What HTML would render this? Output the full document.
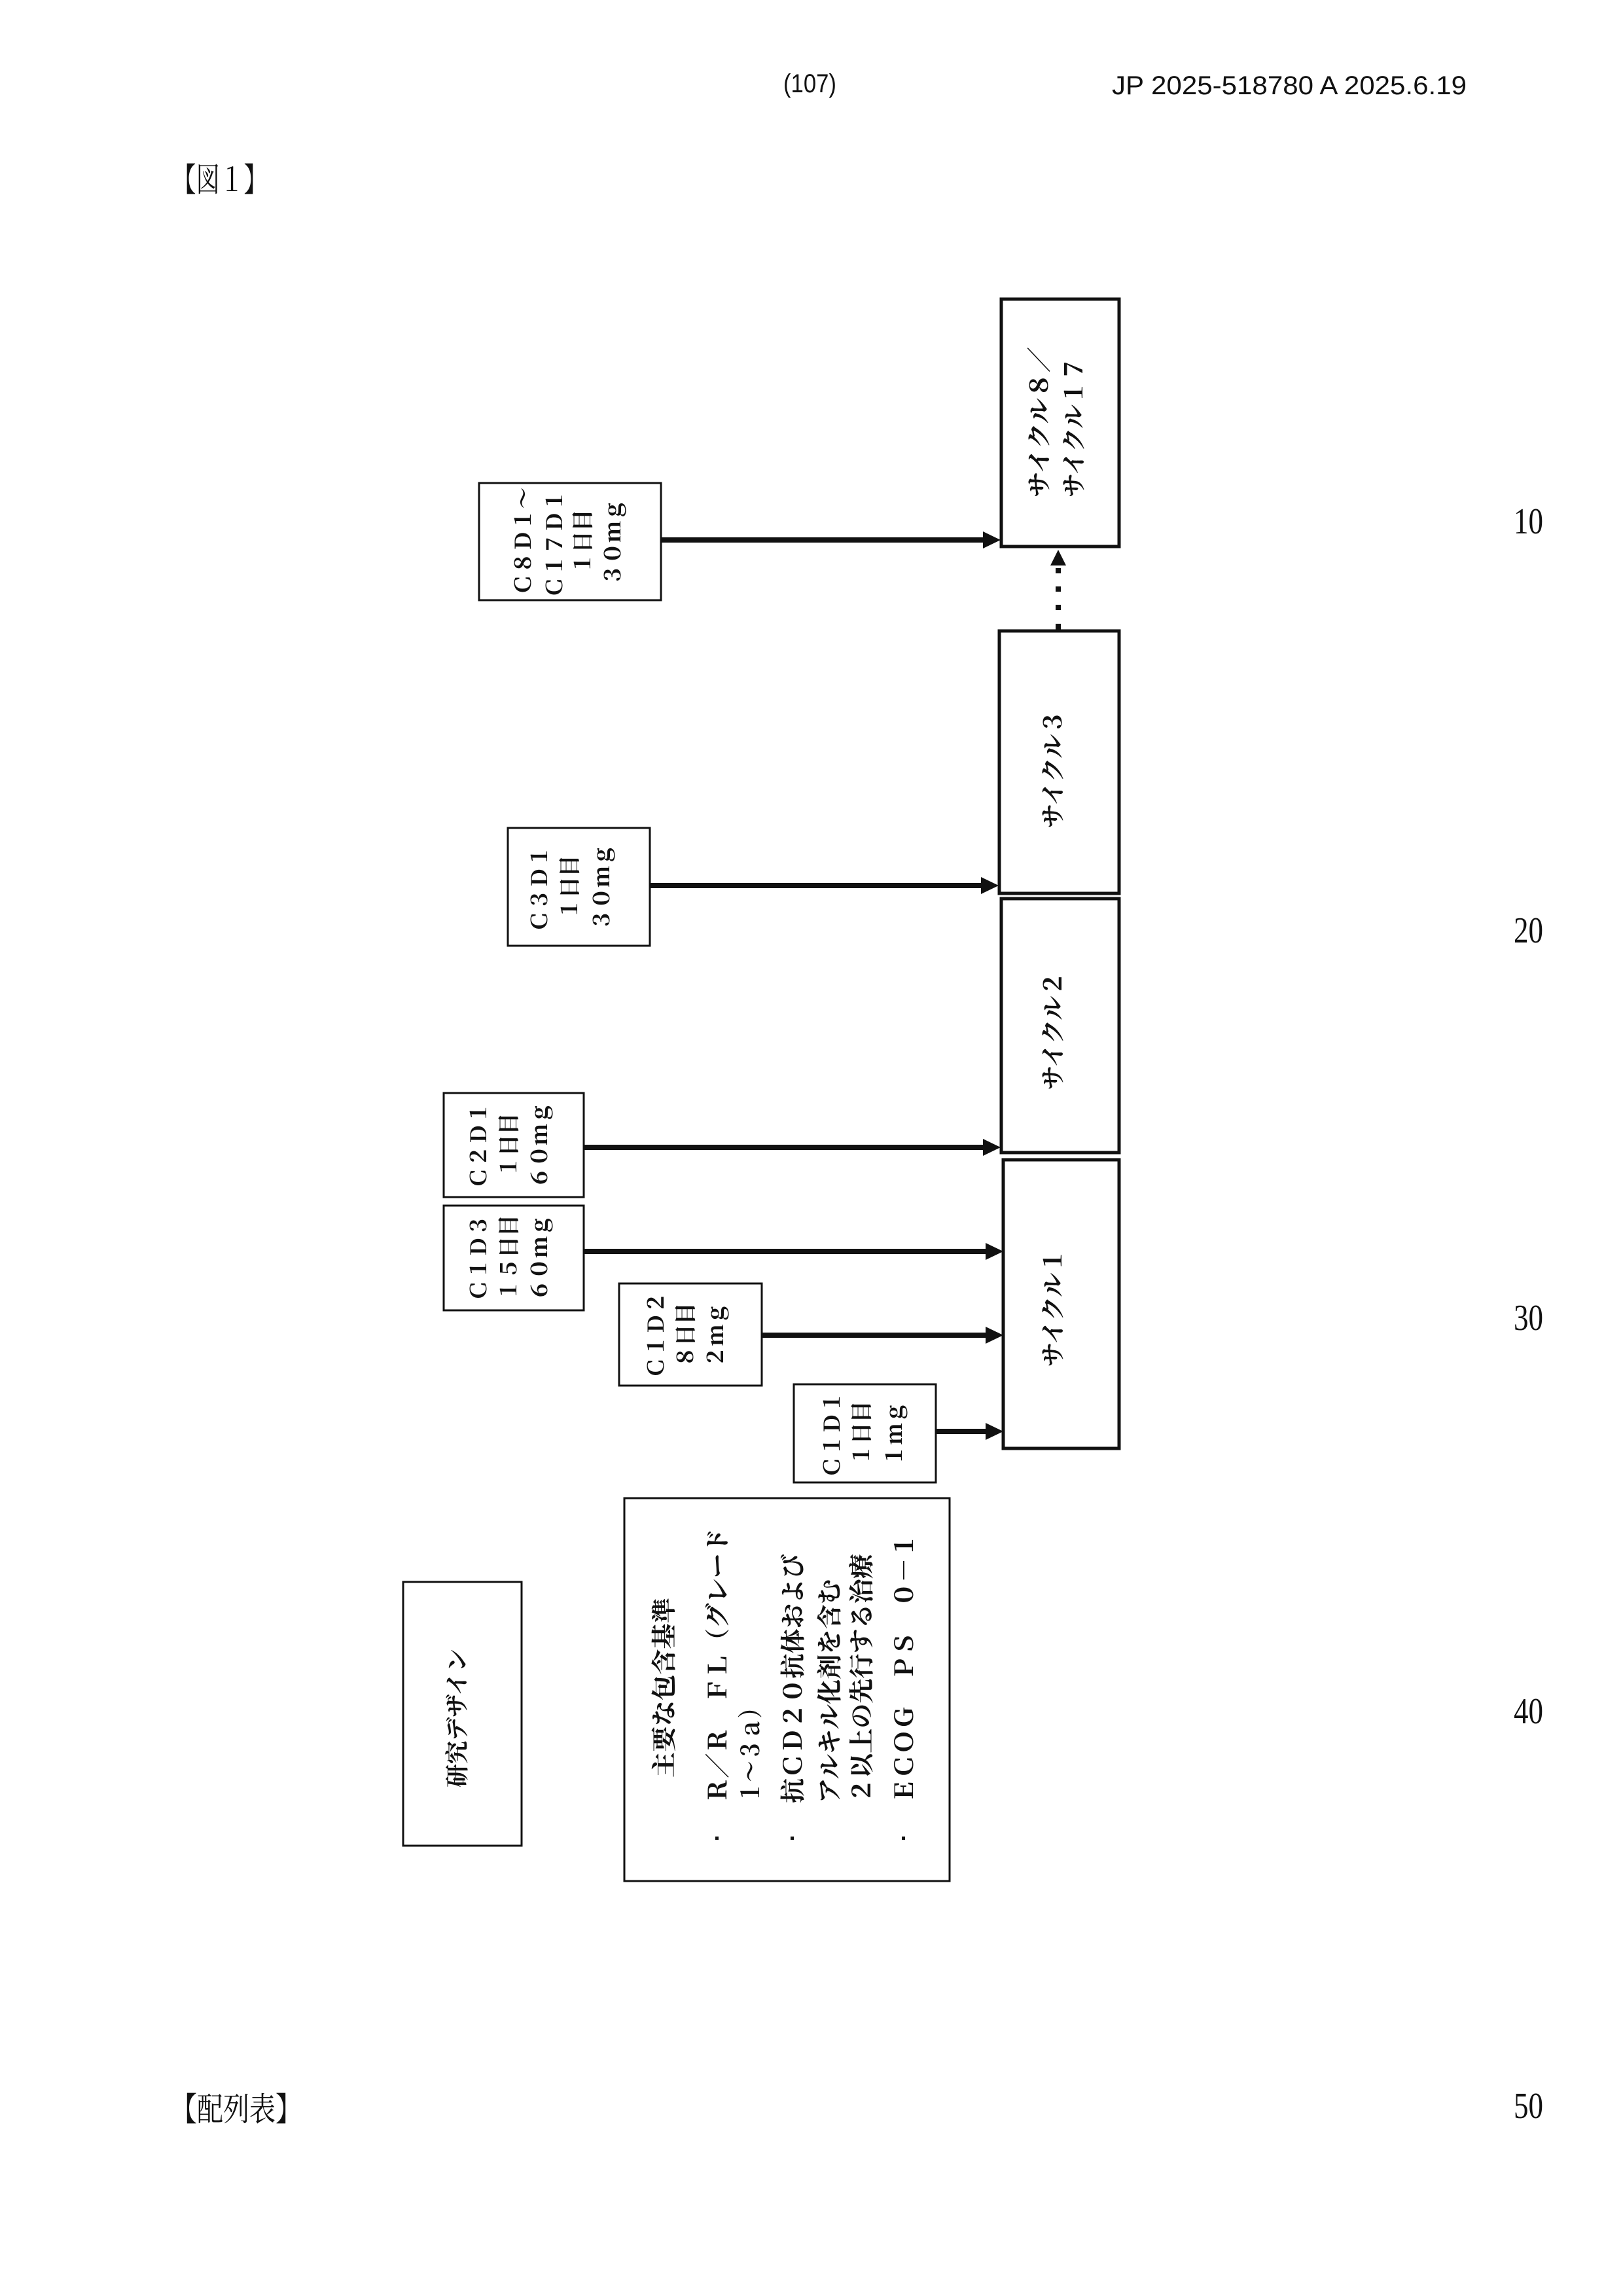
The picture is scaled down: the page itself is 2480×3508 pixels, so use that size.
<!DOCTYPE html>
<html>
<head>
<meta charset="utf-8">
<style>
  html, body { margin: 0; padding: 0; background: #ffffff; }
  svg { display: block; }
  .hdr { font-family: "Liberation Sans", "Noto Sans CJK JP", sans-serif; fill: #111; }
  .ser { font-family: "Liberation Serif", "Noto Serif CJK SC", serif; fill: #111; }
  .jp  { font-family: "Liberation Serif", "Noto Serif CJK SC", serif; font-weight: 700; fill: #111; }
  .box { fill: none; stroke: #111; }
</style>
</head>
<body>
<svg width="2480" height="3508" viewBox="0 0 2480 3508" xmlns="http://www.w3.org/2000/svg">
  <rect x="0" y="0" width="2480" height="3508" fill="#ffffff"/>

  <!-- Header -->
  <text class="hdr" x="1197" y="141" font-size="40" textLength="81" lengthAdjust="spacingAndGlyphs">(107)</text>
  <text class="hdr" x="1699" y="144" font-size="40" textLength="542" lengthAdjust="spacingAndGlyphs">JP  2025-518780  A  2025.6.19</text>

  <text class="ser" x="263" y="292" font-size="50" textLength="146" lengthAdjust="spacingAndGlyphs">【図１】</text>
  <text class="ser" x="261" y="3240" font-size="50" textLength="200" lengthAdjust="spacingAndGlyphs">【配列表】</text>

  <!-- Line numbers -->
  <text class="ser" x="2313" y="815" font-size="56" textLength="45" lengthAdjust="spacingAndGlyphs">10</text>
  <text class="ser" x="2313" y="1440" font-size="56" textLength="45" lengthAdjust="spacingAndGlyphs">20</text>
  <text class="ser" x="2313" y="2032" font-size="56" textLength="45" lengthAdjust="spacingAndGlyphs">30</text>
  <text class="ser" x="2313" y="2633" font-size="56" textLength="45" lengthAdjust="spacingAndGlyphs">40</text>
  <text class="ser" x="2313" y="3236" font-size="56" textLength="45" lengthAdjust="spacingAndGlyphs">50</text>

  <!-- Cycle boxes -->
  <rect class="box" x="1530" y="457" width="180" height="378" stroke-width="5"/>
  <rect class="box" x="1527" y="964" width="183" height="401" stroke-width="5"/>
  <rect class="box" x="1530" y="1373" width="180" height="388" stroke-width="5"/>
  <rect class="box" x="1533" y="1772" width="177" height="441" stroke-width="5"/>

  <!-- Cycle labels (rotated) -->
  <g class="jp" font-size="37">
    <text transform="translate(1601,760) rotate(-90)" textLength="230" lengthAdjust="spacingAndGlyphs">サイクル８／</text>
    <text transform="translate(1654,760) rotate(-90)" textLength="215" lengthAdjust="spacingAndGlyphs">サイクル１７</text>
    <text transform="translate(1622,1175) rotate(-90)" text-anchor="middle">サイクル３</text>
    <text transform="translate(1622,1575) rotate(-90)" text-anchor="middle">サイクル２</text>
    <text transform="translate(1622,1998) rotate(-90)" text-anchor="middle">サイクル１</text>
  </g>

  <!-- Dotted arrow between cycle 3 and cycle 8/17 -->
  <g fill="#111">
    <rect x="1613" y="953" width="8" height="9"/>
    <rect x="1613" y="924" width="8" height="8"/>
    <rect x="1613" y="896" width="8" height="8"/>
    <rect x="1613" y="868" width="8" height="8"/>
    <path d="M1605,864 L1629,864 L1617,840 Z"/>
  </g>

  <!-- Dose boxes -->
  <rect class="box" x="732" y="738" width="278" height="179" stroke-width="3"/>
  <rect class="box" x="776" y="1265" width="217" height="180" stroke-width="3"/>
  <rect class="box" x="678" y="1670" width="214" height="159" stroke-width="3"/>
  <rect class="box" x="678" y="1842" width="214" height="160" stroke-width="3"/>
  <rect class="box" x="946" y="1961" width="218" height="156" stroke-width="3"/>
  <rect class="box" x="1213" y="2115" width="217" height="150" stroke-width="3"/>

  <!-- Dose labels (rotated, centered) -->
  <g class="jp" font-size="33" text-anchor="middle">
    <!-- C8D1 -->
    <text transform="translate(811,827) rotate(-90)">Ｃ８Ｄ１～</text>
    <text transform="translate(859,831) rotate(-90)">Ｃ１７Ｄ１</text>
    <text transform="translate(902,828) rotate(-90)">１日目</text>
    <text transform="translate(948,829) rotate(-90)">３０ｍｇ</text>
    <!-- C3D1 -->
    <text transform="translate(836,1358) rotate(-90)">Ｃ３Ｄ１</text>
    <text transform="translate(882,1356) rotate(-90)">１日目</text>
    <text transform="translate(931,1356) rotate(-90)">３０ｍｇ</text>
    <!-- C2D1 -->
    <text transform="translate(743,1750) rotate(-90)">Ｃ２Ｄ１</text>
    <text transform="translate(789,1750) rotate(-90)">１日目</text>
    <text transform="translate(836,1750) rotate(-90)">６０ｍｇ</text>
    <!-- C1D3 -->
    <text transform="translate(743,1922) rotate(-90)">Ｃ１Ｄ３</text>
    <text transform="translate(789,1922) rotate(-90)">１５日目</text>
    <text transform="translate(836,1922) rotate(-90)">６０ｍｇ</text>
    <!-- C1D2 -->
    <text transform="translate(1014,2040) rotate(-90)">Ｃ１Ｄ２</text>
    <text transform="translate(1059,2040) rotate(-90)">８日目</text>
    <text transform="translate(1105,2040) rotate(-90)">２ｍｇ</text>
    <!-- C1D1 -->
    <text transform="translate(1283,2192) rotate(-90)">Ｃ１Ｄ１</text>
    <text transform="translate(1328,2190) rotate(-90)">１日目</text>
    <text transform="translate(1378,2191) rotate(-90)">１ｍｇ</text>
  </g>

  <!-- Solid arrows -->
  <g stroke="#111" stroke-width="8" fill="none">
    <line x1="1010" y1="825" x2="1506" y2="825"/>
    <line x1="993" y1="1353" x2="1503" y2="1353"/>
    <line x1="892" y1="1753" x2="1506" y2="1753"/>
    <line x1="892" y1="1912" x2="1510" y2="1912"/>
    <line x1="1164" y1="2040" x2="1510" y2="2040"/>
    <line x1="1430" y1="2187" x2="1510" y2="2187"/>
  </g>
  <g fill="#111">
    <path d="M1502,812 L1529,825 L1502,838 Z"/>
    <path d="M1499,1340 L1526,1353 L1499,1366 Z"/>
    <path d="M1502,1740 L1529,1753 L1502,1766 Z"/>
    <path d="M1506,1899 L1533,1912 L1506,1925 Z"/>
    <path d="M1506,2027 L1533,2040 L1506,2053 Z"/>
    <path d="M1506,2174 L1533,2187 L1506,2200 Z"/>
  </g>

  <!-- Study design box -->
  <rect class="box" x="616" y="2417" width="181" height="403" stroke-width="3"/>
  <text class="jp" font-size="36" text-anchor="middle" transform="translate(711,2625) rotate(-90)" textLength="212" lengthAdjust="spacingAndGlyphs">研究デザイン</text>

  <!-- Inclusion criteria box -->
  <rect class="box" x="954" y="2289" width="497" height="585" stroke-width="3"/>
  <g class="jp" font-size="38">
    <text transform="translate(1028,2716) rotate(-90)" textLength="275" lengthAdjust="spacingAndGlyphs">主要な包含基準</text>
    <text transform="translate(1110,2755) rotate(-90)" textLength="420" lengthAdjust="spacingAndGlyphs">Ｒ／Ｒ　ＦＬ（グレード</text>
    <text transform="translate(1160,2755) rotate(-90)" textLength="162" lengthAdjust="spacingAndGlyphs">１～３ａ）</text>
    <text transform="translate(1225,2755) rotate(-90)" textLength="381" lengthAdjust="spacingAndGlyphs">抗ＣＤ２０抗体および</text>
    <text transform="translate(1281,2755) rotate(-90)" textLength="342" lengthAdjust="spacingAndGlyphs">アルキル化剤を含む</text>
    <text transform="translate(1330,2755) rotate(-90)" textLength="381" lengthAdjust="spacingAndGlyphs">２以上の先行する治療</text>
    <text transform="translate(1395,2755) rotate(-90)" textLength="412" lengthAdjust="spacingAndGlyphs">ＥＣＯＧ　ＰＳ　０－１</text>
  </g>
  <g fill="#111">
    <rect x="1093" y="2806" width="5" height="5"/>
    <rect x="1208" y="2806" width="5" height="5"/>
    <rect x="1378" y="2806" width="5" height="5"/>
  </g>
</svg>
</body>
</html>
